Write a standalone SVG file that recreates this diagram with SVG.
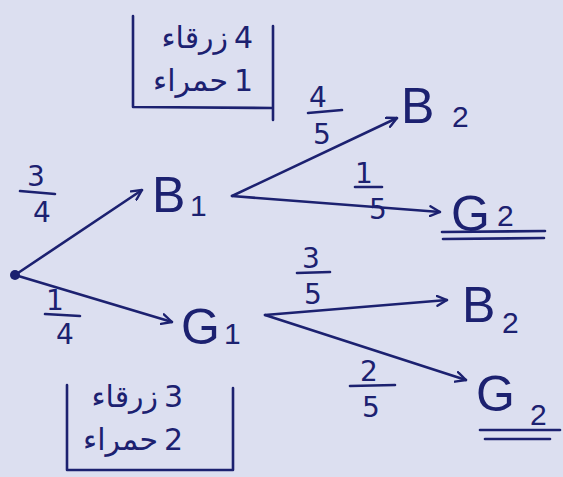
<svg xmlns="http://www.w3.org/2000/svg" width="563" height="477" viewBox="0 0 563 477">
<style>
.ink{stroke:#1c2170;stroke-width:2.6;fill:none;stroke-linecap:round;stroke-linejoin:round}
.big{font-family:"Liberation Sans","DejaVu Sans",sans-serif;font-size:50px;fill:#1c2170}
.sub{font-family:"Liberation Sans","DejaVu Sans",sans-serif;font-size:30px;fill:#1c2170}
.num{font-family:"DejaVu Sans","Liberation Sans",sans-serif;font-size:28px;fill:#1c2170;text-anchor:middle}
.ar{font-family:"DejaVu Sans","Noto Sans",sans-serif;font-size:30px;fill:#1c2170;text-anchor:end}
.dg{font-family:"DejaVu Sans","Liberation Sans",sans-serif;font-size:30px;fill:#1c2170}
</style>
<defs>
<marker id="ah" viewBox="0 0 12 12" refX="11" refY="6" markerWidth="12" markerHeight="12" markerUnits="userSpaceOnUse" orient="auto">
<path d="M1,1 L11,6 L1,11" fill="none" stroke="#1c2170" stroke-width="2.4" stroke-linecap="round" stroke-linejoin="round"/>
</marker>
</defs>
<rect width="563" height="477" fill="#dcdff0"/>
<g id="connectors" class="ink">
<line x1="15" y1="275" x2="142" y2="190" marker-end="url(#ah)"/>
<line x1="15" y1="275" x2="172" y2="322" marker-end="url(#ah)"/>
<line x1="232" y1="196" x2="397" y2="118" marker-end="url(#ah)"/>
<line x1="232" y1="196" x2="440" y2="212" marker-end="url(#ah)"/>
<line x1="265" y1="315" x2="447" y2="300" marker-end="url(#ah)"/>
<line x1="265" y1="315" x2="466" y2="380" marker-end="url(#ah)"/>
</g>
<g id="root"><circle cx="15" cy="275" r="5" fill="#1c2170"/></g>
<g id="B1"><text class="big" x="152" y="212">B</text><text class="sub" x="190" y="216">1</text></g>
<g id="G1"><text class="big" x="181" y="344">G</text><text class="sub" x="224" y="344">1</text></g>
<g id="B2a"><text class="big" x="401" y="123">B</text><text class="sub" x="452" y="127">2</text></g>
<g id="G2a"><text class="big" x="451" y="231">G</text><text class="sub" x="497" y="226">2</text>
<g class="ink"><line x1="442" y1="232" x2="545" y2="231"/><line x1="443" y1="239" x2="544" y2="238"/></g></g>
<g id="B2b"><text class="big" x="462" y="322">B</text><text class="sub" x="502" y="333">2</text></g>
<g id="G2b"><text class="big" x="476" y="411">G</text><text class="sub" x="530" y="425">2</text>
<g class="ink"><line x1="480" y1="430" x2="560" y2="430"/><line x1="485" y1="439" x2="550" y2="439"/></g></g>
<g id="labels">
<g id="p34"><text class="num" x="36" y="186">3</text><line class="ink" x1="20" y1="191" x2="55" y2="194"/><text class="num" x="42" y="222">4</text></g>
<g id="p14"><text class="num" x="55" y="310">1</text><line class="ink" x1="45" y1="314" x2="80" y2="316"/><text class="num" x="65" y="344">4</text></g>
<g id="p45"><text class="num" x="318" y="107">4</text><line class="ink" x1="308" y1="113" x2="342" y2="110"/><text class="num" x="322" y="144">5</text></g>
<g id="p15"><text class="num" x="364" y="183">1</text><line class="ink" x1="355" y1="187" x2="382" y2="187"/><text class="num" x="378" y="219">5</text></g>
<g id="p35"><text class="num" x="311" y="268">3</text><line class="ink" x1="297" y1="273" x2="330" y2="272"/><text class="num" x="313" y="304">5</text></g>
<g id="p25"><text class="num" x="369" y="381">2</text><line class="ink" x1="350" y1="386" x2="395" y2="385"/><text class="num" x="371" y="417">5</text></g>
</g>
<g id="box1">
<path class="ink" d="M133,16 L133,107 L272,108 M273,26 L273,120"/>
<text class="dg" x="234" y="48">4</text>
<text class="ar" x="228" y="48">زرقاء</text>
<text class="dg" x="234" y="91">1</text>
<text class="ar" x="228" y="91">حمراء</text>
</g>
<g id="box2">
<path class="ink" d="M67,385 L67,470 L233,470 M233,388 L233,470"/>
<text class="dg" x="164" y="407">3</text>
<text class="ar" x="158" y="407">زرقاء</text>
<text class="dg" x="164" y="450">2</text>
<text class="ar" x="158" y="450">حمراء</text>
</g>
</svg>
